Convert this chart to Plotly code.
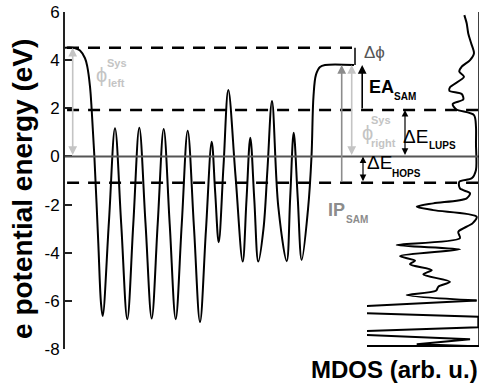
import plotly.graph_objects as go

# ---------------- data ----------------
# electrostatic potential energy profile across the system (position in arb. units, energy in eV)
pot_pos = [0.0, 0.7, 1.1, 1.5, 2.0, 2.23, 2.5, 2.67, 2.93, 3.33, 3.6, 3.77,
           4.39, 5.0, 5.62, 6.23, 6.83, 7.43, 8.05, 8.67, 9.27, 9.87, 10.47, 11.07,
           11.67, 12.27, 12.89, 13.5, 14.09, 14.67, 15.02, 15.37, 15.85, 16.33, 17.05,
           17.77, 18.15, 18.53, 18.93, 19.33, 19.85, 20.25, 20.7, 21.33, 22.17, 22.52,
           22.87, 23.27, 23.67, 24.3, 24.65, 24.85, 25.1, 25.5, 26.0, 28.9]
pot_E = [4.52, 4.52, 4.48, 4.40, 4.08, 3.73, 2.9, 1.93, 0.06, -3.6, -6.1, -6.63,
         -2.73, 1.17, -2.8, -6.76, -2.8, 1.19, -2.77, -6.73, -2.8, 1.14, -2.81, -6.76,
         -2.85, 1.07, -2.9, -6.88, -3.1, 0.61, -1.5, -3.57, -0.4, 2.76, -0.8,
         -4.37, -1.8, 0.78, -1.8, -4.37, -3.0, -0.5, 2.30, -2.09, -4.35, -1.7,
         0.98, -1.7, -4.30, -2.2, 0.0, 2.5, 3.4, 3.72, 3.8, 3.8]

# molecular density of states (arb. u.) vs energy (eV)
mdos_E = [5.87, 5.53, 5.11, 4.7, 4.28, 4.0, 3.73, 3.52, 3.31, 2.87, 2.73, 2.59, 2.37,
          2.18, 1.96, 1.72, 1.23, 0.54, -0.56, -0.91, -1.05, -1.33, -1.53, -1.74,
          -1.95, -2.09, -2.23, -2.5, -2.78, -3.13, -3.40, -3.68, -3.86, -4.14, -4.33,
          -4.48, -4.72, -4.90, -5.21, -5.41, -5.58, -5.76, -5.99]
mdos_val = [0.131, 0.110, 0.096, 0.07, 0.045, 0.080, 0.154, 0.176, 0.134, 0.259, 0.265,
            0.154, 0.140, 0.235, 0.205, 0.045, 0.027, 0.027, 0.027, 0.065, 0.176, 0.170,
            0.080, 0.110, 0.408, 0.556, 0.408, 0.021, 0.058, 0.185, 0.170, 0.735, 0.170,
            0.705, 0.571, 0.616, 0.422, 0.497, 0.259, 0.363, 0.384, 0.646, 0.021]
# sharp deep-lying states (clipped by the panel)
spike_E = [-5.99, -6.40, -6.66, -7.10, -7.32, -7.60, -7.80, -7.88]
spike_val = [0.021, 1.85, 0.006, 0.006, 1.49, 0.080, 0.556, 0.10]

# energy levels (eV)
E_vac_left = 4.52
E_vac_right = 3.8
E_LUMO = 1.93
E_F = 0.0
E_HOMO = -1.09

y_ticks = [-8, -6, -4, -2, 0, 2, 4, 6]

FONT = "Liberation Sans, Arial, Helvetica, sans-serif"

fig = go.Figure()

fig.add_trace(go.Scatter(x=pot_pos, y=pot_E, mode="lines",
                         line=dict(color="black", width=2, shape="spline", smoothing=1.0),
                         xaxis="x", yaxis="y", hoverinfo="skip"))
fig.add_trace(go.Scatter(x=mdos_val, y=mdos_E, mode="lines",
                         line=dict(color="black", width=2, shape="spline", smoothing=0.8),
                         xaxis="x2", yaxis="y", hoverinfo="skip"))
fig.add_trace(go.Scatter(x=spike_val, y=spike_E, mode="lines",
                         line=dict(color="black", width=2),
                         xaxis="x2", yaxis="y", hoverinfo="skip"))

shapes = []
DASH = "12px,9px"
# dashed level lines
shapes.append(dict(type="line", xref="x", yref="y", x0=0.2, x1=29.0, y0=E_vac_left, y1=E_vac_left,
                   line=dict(color="black", width=2.5, dash=DASH)))
for yv in (E_LUMO, E_HOMO):
    shapes.append(dict(type="line", xref="paper", yref="y", x0=0.005, x1=1.008, y0=yv, y1=yv,
                       line=dict(color="black", width=2.5, dash=DASH)))
# Fermi level
shapes.append(dict(type="line", xref="paper", yref="y", x0=0, x1=1, y0=E_F, y1=E_F,
                   line=dict(color="#555555", width=2)))
# delta phi bracket
shapes.append(dict(type="line", xref="x", yref="y", x0=29.0, x1=29.0, y0=E_vac_left, y1=E_vac_right,
                   line=dict(color="black", width=1.5)))
# MDOS panel right (zero) line
shapes.append(dict(type="line", xref="x2", yref="y", x0=0, x1=0, y0=-7.87, y1=6,
                   line=dict(color="black", width=1.5)))

ann = []


def arrow(x, y_tail, y_head, color, width, both=False):
    ann.append(dict(x=x, y=y_head, ax=x, ay=y_tail, xref="x", yref="y", axref="x", ayref="y",
                    text="", showarrow=True, arrowhead=2, startarrowhead=2,
                    arrowside="end+start" if both else "end",
                    arrowsize=1.1, startarrowsize=1.1, arrowwidth=width, arrowcolor=color,
                    standoff=0, startstandoff=0))


def txt(x, y, s, size, color="black", bold=False, xanchor="center"):
    ann.append(dict(x=x, y=y, xref="x", yref="y", text=s, showarrow=False,
                    xanchor=xanchor, yanchor="middle",
                    font=dict(family=FONT, size=size, color=color,
                              weight="bold" if bold else "normal")))


LIGHT = "#c4c4c4"
MID = "#8c8c8c"

arrow(0.77, E_F, E_vac_left, LIGHT, 1.6, both=True)          # phi left
arrow(27.67, E_HOMO, E_vac_right, MID, 1.6)                   # IP SAM
arrow(28.67, E_F, E_vac_right, LIGHT, 1.6, both=True)         # phi right
arrow(29.72, E_LUMO, E_vac_right, "black", 1.6)               # EA SAM
arrow(34.0, E_F, E_LUMO, "black", 1.2, both=True)             # dE LUPS
arrow(29.8, E_HOMO, E_F, "black", 1.2, both=True)             # dE HOPS

txt(3.6, 3.38, "ϕ", 20, LIGHT)
txt(5.2, 3.88, "Sys", 11, LIGHT, bold=True)
txt(5.1, 3.05, "left", 11, LIGHT, bold=True)

txt(30.9, 4.3, "Δϕ", 17, "#555555")
txt(31.6, 2.88, "EA", 18, "black", bold=True)
txt(34.0, 2.47, "SAM", 10, "black", bold=True)

txt(30.25, 0.97, "ϕ", 20, LIGHT)
txt(31.6, 1.51, "Sys", 11, LIGHT, bold=True)
txt(31.85, 0.56, "right", 11, LIGHT, bold=True)

txt(35.05, 0.81, "ΔE", 19, "black")
txt(37.75, 0.47, "LUPS", 10, "black", bold=True)

txt(31.4, -0.27, "ΔE", 19, "black")
txt(34.1, -0.69, "HOPS", 10, "black", bold=True)

txt(27.1, -2.23, "IP", 18, MID, bold=True)
txt(29.15, -2.6, "SAM", 10, MID, bold=True)

# axis titles
ann.append(dict(x=-0.103, y=0.476, xref="paper", yref="paper", text="e potential energy (eV)",
                textangle=-90, showarrow=False, xanchor="center", yanchor="middle",
                font=dict(family=FONT, size=28, color="black", weight="bold")))
ann.append(dict(x=0.797, y=-0.062, xref="paper", yref="paper", text="MDOS (arb. u.)",
                showarrow=False, xanchor="center", yanchor="middle",
                font=dict(family=FONT, size=24, color="black", weight="bold")))

fig.update_layout(
    width=482, height=387,
    margin=dict(l=65, r=3, t=12, b=38),
    paper_bgcolor="white", plot_bgcolor="white",
    showlegend=False,
    font=dict(family=FONT, color="black"),
    xaxis=dict(domain=[0, 1], range=[0, 41.4], visible=False, fixedrange=True),
    xaxis2=dict(domain=[0.7295, 1], range=[1.0, 0], anchor="free", position=0.009,
                showline=True, linecolor="black", linewidth=1.5, ticks="", showticklabels=False,
                showgrid=False, zeroline=False),
    yaxis=dict(range=[-8, 6], tickvals=y_ticks, ticktext=[str(v) for v in y_ticks],
               ticks="inside", ticklen=7, tickwidth=1.5, tickcolor="#222",
               showline=True, linecolor="#222", linewidth=2,
               showgrid=False, zeroline=False,
               tickfont=dict(family=FONT, size=17, color="black")),
    shapes=shapes,
    annotations=ann,
)

fig.write_html("out.html")
